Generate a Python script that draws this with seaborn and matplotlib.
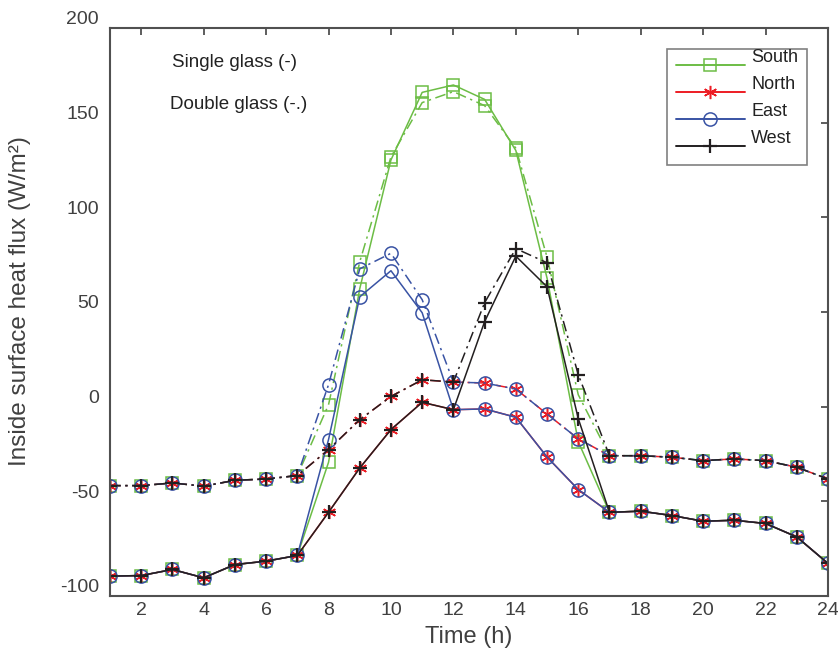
import numpy as np
import pandas as pd
import seaborn as sns
import matplotlib.pyplot as plt
import matplotlib.transforms as mtransforms
from matplotlib.lines import Line2D

hours = list(range(1, 25))

# single glass (solid lines)
south_single = [-89.5, -89.2, -86.0, -90.4, -83.4, -81.6, -78.6, -29.4, 62.3, 130.3, 166.0, 169.9,
                162.3, 135.3, 67.9, -18.5, -55.8, -55.2, -57.5, -60.5, -60.0, -61.7, -68.8, -82.8]
north_single = [-89.5, -89.2, -86.0, -90.4, -83.4, -81.6, -78.6, -55.8, -32.4, -12.1, 2.3, -1.6,
                -1.2, -5.6, -26.6, -43.8, -55.8, -55.2, -57.5, -60.5, -60.0, -61.7, -68.8, -82.8]
east_single = [-89.5, -89.2, -86.0, -90.4, -83.4, -81.6, -78.6, -17.4, 58.0, 71.8, 49.6, -1.6,
               -1.2, -5.6, -26.6, -43.8, -55.8, -55.2, -57.5, -60.5, -60.0, -61.7, -68.8, -82.8]
west_single = [-89.5, -89.2, -86.0, -90.4, -83.4, -81.6, -78.6, -55.8, -32.4, -12.1, 2.3, -1.6,
               44.9, 79.5, 63.3, -6.3, -55.8, -55.2, -57.5, -60.5, -60.0, -61.7, -68.8, -82.8]

# double glass (dash-dot lines)
south_double = [-41.7, -41.7, -40.3, -42.0, -38.9, -38.2, -36.4, 1.0, 76.5, 131.9, 160.6, 166.4,
                159.0, 136.5, 79.0, 6.3, -25.9, -25.9, -26.7, -28.5, -27.6, -28.5, -32.0, -38.2]
north_double = [-41.7, -41.7, -40.3, -42.0, -38.9, -38.2, -36.4, -22.7, -6.9, 5.4, 14.2, 13.0,
                12.5, 9.3, -3.9, -17.0, -25.9, -25.9, -26.7, -28.5, -27.6, -28.5, -32.0, -38.2]
east_double = [-41.7, -41.7, -40.3, -42.0, -38.9, -38.2, -36.4, 11.6, 72.8, 81.0, 56.5, 13.0,
               12.5, 9.3, -3.9, -17.0, -25.9, -25.9, -26.7, -28.5, -27.6, -28.5, -32.0, -38.2]
west_double = [-41.7, -41.7, -40.3, -42.0, -38.9, -38.2, -36.4, -22.7, -6.9, 5.4, 14.2, 13.0,
               54.9, 83.5, 76.0, 16.9, -25.9, -25.9, -26.7, -28.5, -27.6, -28.5, -32.0, -38.2]

names = ['South', 'North', 'East', 'West']
colors = ['#6cbd45', '#ed1c24', '#3953a4', '#231f20']
markers = ['s', (6, 2, 0), 'o', '+']
msizes = [8, 9.5, 9.5, 10.5]
mews = [1.1, 1.1, 1.1, 1.6]
singles = [south_single, north_single, east_single, west_single]
doubles = [south_double, north_double, east_double, west_double]

sns.set_theme(style="white")
plt.rcParams['font.family'] = ['Liberation Sans', 'DejaVu Sans']
plt.rcParams['axes.unicode_minus'] = False

fig = plt.figure(figsize=(8.38, 6.55), dpi=100)
ax = fig.add_axes([110/838, 59/655, 718/838, 568/655])

for i in range(4):
    sns.lineplot(x=hours, y=singles[i], color=colors[i], marker=markers[i], ms=msizes[i],
                 mfc='none', mec=colors[i], mew=mews[i], lw=1.1, linestyle='-', ax=ax)
    sns.lineplot(x=hours, y=doubles[i], color=colors[i], marker=markers[i], ms=msizes[i],
                 mfc='none', mec=colors[i], mew=mews[i], lw=1.1,
                 linestyle=(0, (7, 3, 1.5, 3)), ax=ax)

ax.set_xlim(1, 24)
ax.set_ylim(-100, 200)
ax.set_xticks(range(2, 25, 2))
ax.set_yticks(range(-100, 201, 50))
ax.tick_params(direction='in', length=5, width=1.3, top=True, right=True,
               labelsize=14, labelcolor='#404040', color='#505050')
ax.tick_params(axis='x', pad=4)
ax.tick_params(axis='y', pad=8)
for sp in ax.spines.values():
    sp.set_color('#505050')
    sp.set_linewidth(1.5)

ax.set_xlabel('Time (h)', fontsize=17, color='#404040')
ax.set_ylabel('Inside surface heat flux (W/m²)', fontsize=17.5, color='#404040')
ax.xaxis.set_label_coords(0.5, -0.053)
ax.yaxis.set_label_coords(-0.11, 0.52)

ax.text(2.99, 181.7, 'Single glass (-)', fontsize=13.5, color='#222222', va='center')
ax.text(2.92, 159.5, 'Double glass (-.)', fontsize=13.5, color='#222222', va='center')

handles = [Line2D([], [], color=colors[i], marker=markers[i], ms=msizes[i], mfc='none',
                  mec=colors[i], mew=mews[i], lw=1.4) for i in range(4)]
leg = ax.legend(handles, names, loc='upper right', bbox_to_anchor=(0.9708, 0.963),
                borderaxespad=0, fontsize=13, frameon=True, fancybox=False,
                edgecolor='#808080', framealpha=1, handlelength=3.8, handletextpad=0.35,
                labelspacing=0.55, borderpad=0.5)
leg.get_frame().set_linewidth(1.2)
for t in leg.get_texts():
    t.set_color('#222222')
    t.set_y(9)

# tick labels sit a little above their ticks in the original
shift = mtransforms.ScaledTranslation(0, 0.1, fig.dpi_scale_trans)
for lab in ax.get_yticklabels():
    lab.set_transform(lab.get_transform() + shift)

fig.savefig('out.png', dpi=100)
